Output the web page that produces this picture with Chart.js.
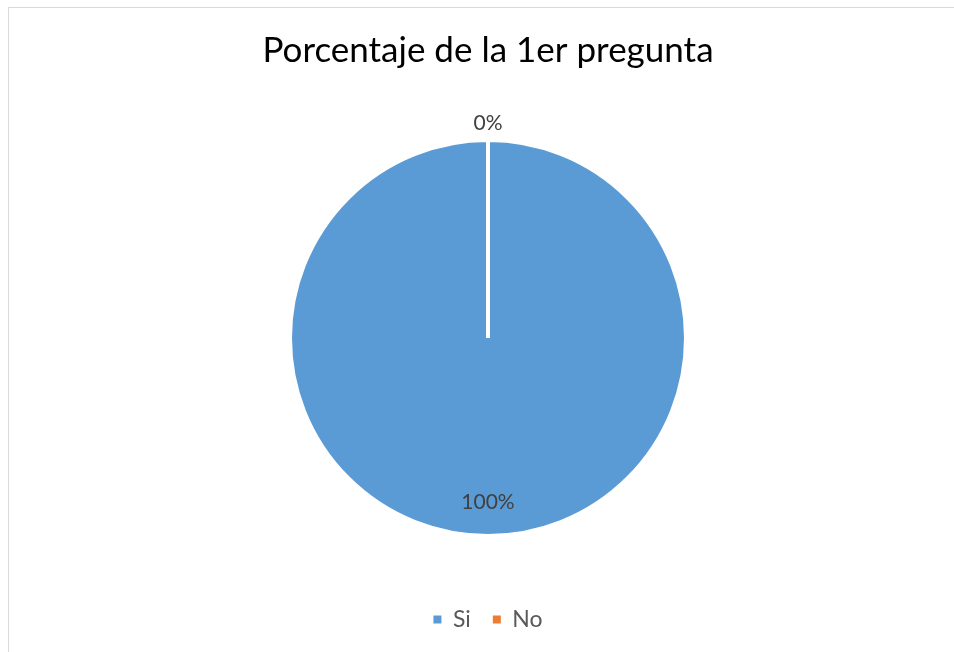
<!DOCTYPE html>
<html>
<head>
<meta charset="utf-8">
<title>Porcentaje de la 1er pregunta</title>
<script src="https://cdn.jsdelivr.net/npm/chart.js@4.4.1/dist/chart.umd.min.js"></script>
<style>
    html, body {
        margin: 0;
        padding: 0;
        background: #ffffff;
        overflow: hidden;
    }
    .chart-box {
        position: absolute;
        left: 8px;
        top: 7px;
        width: 960px;
        height: 660px;
        border: 1px solid #d9d9d9;
        box-sizing: border-box;
    }
</style>
</head>
<body>
<div class="chart-box">
    <canvas id="pieChart"></canvas>
</div>
<script>
// Chart data
const labels = ['Si', 'No'];
const values = [100, 0];
const colors = ['#5B9BD5', '#ED7D31'];

const fontFamily = "Lato, 'Open Sans', sans-serif";

// Percent labels on each slice (Excel style)
const sliceLabels = {
    id: 'sliceLabels',
    afterDatasetsDraw(chart) {
        const ctx = chart.ctx;
        const meta = chart.getDatasetMeta(0);
        const total = values.reduce((a, b) => a + b, 0);
        ctx.save();
        ctx.font = '21px ' + fontFamily;
        ctx.fillStyle = '#404040';
        ctx.textAlign = 'center';
        ctx.textBaseline = 'middle';
        meta.data.forEach((arc, i) => {
            const p = arc.getProps(['x', 'y', 'startAngle', 'endAngle', 'outerRadius'], true);
            const mid = (p.startAngle + p.endAngle) / 2;
            // empty slice gets its label outside the pie
            const r = values[i] === 0 ? p.outerRadius + 17 : p.outerRadius * 0.83;
            const pct = Math.round(values[i] / total * 100) + '%';
            ctx.fillText(pct, p.x + Math.cos(mid) * r, p.y + Math.sin(mid) * r);
        });
        ctx.restore();
    }
};

const ctx = document.getElementById('pieChart');
const pieChart = new Chart(ctx.getContext('2d'), {
    type: 'pie',
    data: {
        labels: labels,
        datasets: [{
            data: values,
            backgroundColor: colors,
            borderColor: '#ffffff',
            borderWidth: 4
        }]
    },
    options: {
        responsive: true,
        maintainAspectRatio: false,
        animation: false,
        radius: 198,
        layout: {
            padding: { top: 10, bottom: 25 }
        },
        plugins: {
            title: {
                display: true,
                text: 'Porcentaje de la 1er pregunta',
                color: '#000000',
                font: { family: fontFamily, size: 35, weight: 'normal' },
                padding: { top: 12, bottom: 18 }
            },
            legend: {
                display: true,
                position: 'bottom',
                labels: {
                    color: '#595959',
                    font: { family: fontFamily, size: 23 },
                    boxWidth: 8,
                    boxHeight: 8,
                    padding: 22,
                    // no white border on the legend squares
                    generateLabels(chart) {
                        const items = Chart.controllers.pie.overrides.plugins.legend.labels.generateLabels(chart);
                        return items.map(item => Object.assign(item, { lineWidth: 0 }));
                    }
                }
            },
            tooltip: { enabled: false }
        }
    },
    plugins: [sliceLabels]
});
</script>
</body>
</html>
